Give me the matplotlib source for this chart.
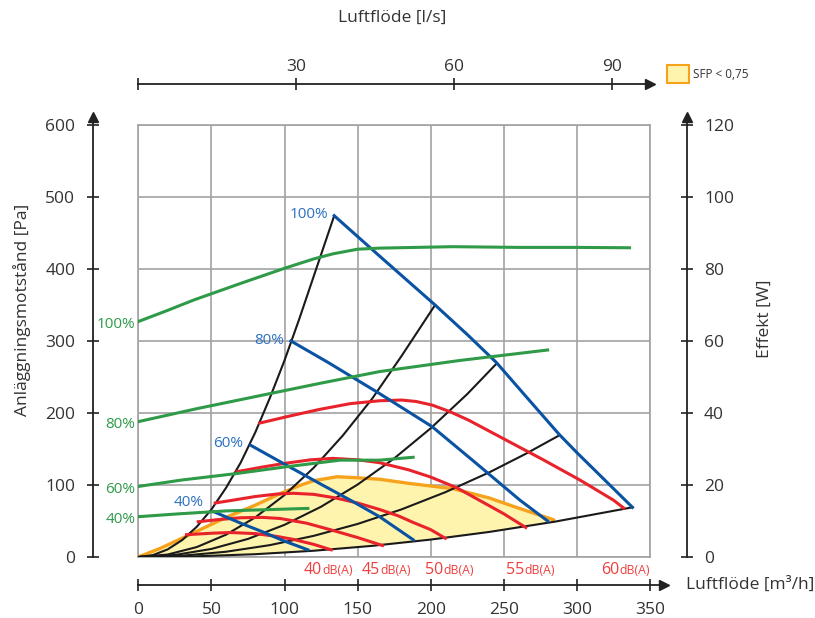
import numpy as np
import matplotlib
matplotlib.use("Agg")
import matplotlib.pyplot as plt
from matplotlib.patches import Rectangle

plt.rcParams['font.family'] = ['Open Sans', 'DejaVu Sans']

# Systemkurvor (luftflöde m3/h, tryck Pa)
sys_a_q = [0, 10, 20, 30, 40, 50, 60, 70, 80, 90, 100, 110, 120, 134]
sys_a_p = [0, 2.6, 10.5, 23.5, 42, 66, 96, 131, 173, 221, 273, 330, 390, 474]
sys_b_q = [0, 20, 40, 60, 80, 100, 120, 140, 160, 180, 203]
sys_b_p = [0, 3.4, 13.8, 31, 55, 86, 124, 169, 220, 279, 350]
sys_c_q = [0, 25, 50, 75, 100, 125, 150, 175, 200, 225, 245]
sys_c_p = [0, 2.8, 11.2, 25.1, 44.7, 69.8, 100.6, 136.9, 178.8, 226.3, 268.5]
sys_d_q = [0, 30, 60, 90, 120, 150, 180, 210, 240, 265, 288]
sys_d_p = [0, 1.8, 7.3, 16.5, 29.4, 45.9, 66.1, 90, 117.5, 143.3, 169]
sys_e_q = [0, 40, 80, 120, 160, 200, 240, 285, 338]
sys_e_p = [0, 1, 3.9, 8.7, 15.5, 24.2, 34.8, 49.1, 69]

# Fläktkurvor (styrsignal %)
fan_labels = ['100%', '80%', '60%', '40%']
fan_q = [
    [134, 165, 203, 225, 245, 266, 288, 300, 312, 325, 338],
    [104.4, 130, 165, 201, 230, 261, 280],
    [77, 100, 125, 145, 165, 188],
    [51.5, 70, 85, 100, 116],
]
fan_p = [
    [474, 418, 350, 309, 270, 221, 170, 145, 121, 95, 69],
    [300, 270, 227, 181, 132, 79, 50],
    [155, 129, 101, 79, 56, 24],
    [63, 47, 35, 22, 10],
]
fan_label_off = [(-6, 1), (-7, 1), (-8, 2), (-10, 9)]

# Ljudnivåkurvor dB(A)
db_labels = ['40', '45', '50', '55', '60']
db_q = [
    [33, 50, 63, 80, 95, 106, 120, 132],
    [41, 55, 70, 85, 97, 115, 133, 150, 167],
    [52.6, 65, 80, 95, 106, 120, 135, 150, 165, 178, 188, 200, 210],
    [67.5, 85, 100, 118, 133, 150, 165, 185, 200, 218, 234, 250, 265],
    [83, 104, 124, 145, 165, 180, 190, 201, 213, 226, 251, 277, 302, 325, 332],
]
db_p = [
    [31, 33, 34, 32.5, 28.5, 24.5, 17.5, 10],
    [49, 52, 54.5, 55, 53.5, 47, 37, 27, 16],
    [75, 79, 84, 87.5, 88.5, 87, 82, 75, 66, 57, 48, 38, 26],
    [118.5, 125, 130, 135, 137, 135, 131, 121, 111, 96, 78, 60, 41],
    [186, 196, 205, 213, 217, 218, 216, 211, 202, 190, 163, 135, 107, 79, 68],
]
db_label_q = [125.6, 165.3, 208.8, 263.8, 329.2]

# Effektkurvor (W)
pow_labels = ['100%', '80%', '60%', '40%']
pow_q = [
    [0, 20, 38, 70, 100, 120, 133, 150, 165, 190, 215, 260, 300, 336],
    [0, 40, 83, 125, 165, 220, 280],
    [0, 30, 67.5, 100, 138, 165, 188],
    [0, 28, 60, 116],
]
pow_w = [
    [65.4, 68.5, 71.4, 76, 80.2, 82.8, 84.2, 85.5, 85.8, 86, 86.2, 86, 86, 85.9],
    [37.6, 41.2, 44.8, 48.3, 51.5, 54.6, 57.5],
    [19.6, 21.4, 23.2, 25, 26.9, 26.9, 27.7],
    [11.2, 12, 12.8, 13.5],
]

# SFP < 0,75 område
sfp_q = [0, 15, 33, 60, 80, 97, 110, 120, 136, 150, 165, 186, 215, 240, 257, 285]
sfp_p = [0, 12, 29, 55, 72, 88, 99, 106, 111.5, 110, 108, 102, 95, 82, 70, 51]
sfp_low_q = [285, 240, 200, 160, 120, 80, 40, 0]
sfp_low_p = [49.1, 34.8, 24.2, 15.5, 8.7, 3.9, 1, 0]

BLUE = '#0a52a2'
BLUE_TXT = '#2b70c2'
RED = '#e8232b'
RED_TXT = '#ee3e3e'
GREEN = '#2f9a47'
GREEN_TXT = '#2f9a4a'
ORANGE = '#f7a21c'
YELLOW = '#fff4ae'
GRID = '#a2a2a2'
AX = '#222222'
TXT = '#333333'

W, H = 815, 618
fig = plt.figure(figsize=(W / 100, H / 100), dpi=100)


def fx(px):
    return px / W


def fy(py):
    return 1 - py / H


# diagramrutan
x0, x1, ytop, ybot = 138.3, 650, 125, 557
ax = fig.add_axes([fx(x0), fy(ybot), (x1 - x0) / W, (ybot - ytop) / H])
ax.set_xlim(0, 350)
ax.set_ylim(0, 600)
ax.set_xticks(np.arange(0, 351, 50))
ax.set_yticks(np.arange(0, 601, 100))
ax.tick_params(length=0, labelbottom=False, labelleft=False)
ax.grid(True, color=GRID, lw=1.2)
for s in ax.spines.values():
    s.set_color(GRID)
    s.set_linewidth(1.2)

poly_q = sfp_q + sfp_low_q
poly_p = sfp_p + sfp_low_p
ax.fill(poly_q, poly_p, color=YELLOW, lw=0, zorder=2)
ax.plot(sfp_q, sfp_p, color=ORANGE, lw=2.4, zorder=3, solid_capstyle='butt')

for q, p in [(sys_a_q, sys_a_p), (sys_b_q, sys_b_p), (sys_c_q, sys_c_p),
             (sys_d_q, sys_d_p), (sys_e_q, sys_e_p)]:
    ax.plot(q, p, color='#1a1a1a', lw=1.5, zorder=4)

for i, lab in enumerate(db_labels):
    ax.plot(db_q[i], db_p[i], color=RED, lw=2.2, zorder=5,
            solid_joinstyle='round')
    ax.text(db_label_q[i], -23.6, lab, color=RED_TXT, fontsize=11.5,
            ha='right', va='baseline', clip_on=False)
    ax.text(db_label_q[i], -23.6, 'dB(A)', color=RED_TXT, fontsize=8.8,
            ha='left', va='baseline', clip_on=False)

for i, lab in enumerate(fan_labels):
    ax.plot(fan_q[i], fan_p[i], color=BLUE, lw=2.2, zorder=6,
            solid_joinstyle='round')
    ax.annotate(lab, (fan_q[i][0], fan_p[i][0]), xytext=fan_label_off[i],
                textcoords='offset pixels', color=BLUE_TXT, fontsize=11,
                ha='right', va='center', zorder=8)

# effekt mot höger axel
ax_w = ax.twinx()
ax_w.set_ylim(0, 120)
ax_w.axis('off')
for i, lab in enumerate(pow_labels):
    ax_w.plot(pow_q[i], pow_w[i], color=GREEN, lw=2.2, zorder=7,
              solid_joinstyle='round')
    ax_w.annotate(lab, (pow_q[i][0], pow_w[i][0]), xytext=(-3, -3),
                  textcoords='offset pixels', color=GREEN_TXT, fontsize=11,
                  ha='right', va='center', annotation_clip=False)


def bare(a):
    a.patch.set_visible(False)
    for s in a.spines.values():
        s.set_visible(False)


tick_kw = dict(direction='inout', length=9, width=1.2, color=AX,
               labelcolor=TXT, labelsize=12.5)

# vänster axel (Pa)
top_tip = 117
ax_l = fig.add_axes([fx(92.7), fy(ybot), 1e-5, (ybot - top_tip) / H])
bare(ax_l)
ax_l.spines['left'].set_visible(True)
ax_l.spines['left'].set_color(AX)
ax_l.spines['left'].set_linewidth(1.3)
ax_l.set_ylim(0, 600 * (ybot - top_tip) / (ybot - ytop))
ax_l.set_xticks([])
ax_l.set_yticks(np.arange(0, 601, 100))
ax_l.tick_params(axis='y', pad=8, **tick_kw)
ax_l.plot([0], [1], marker='^', ms=7, color=AX, transform=ax_l.transAxes,
          clip_on=False)

# höger axel (W)
ax_r = fig.add_axes([fx(686.7), fy(ybot), 1e-5, (ybot - top_tip) / H])
bare(ax_r)
ax_r.spines['right'].set_visible(True)
ax_r.spines['right'].set_color(AX)
ax_r.spines['right'].set_linewidth(1.3)
ax_r.set_ylim(0, 120 * (ybot - top_tip) / (ybot - ytop))
ax_r.set_xticks([])
ax_r.yaxis.tick_right()
ax_r.set_yticks(np.arange(0, 121, 20))
ax_r.tick_params(axis='y', pad=8, **tick_kw)
ax_r.plot([1], [1], marker='^', ms=7, color=AX, transform=ax_r.transAxes,
          clip_on=False)

# nedre axel (m3/h)
b_tip = 664
ax_b = fig.add_axes([fx(x0), fy(585), (b_tip - x0) / W, 1e-5])
bare(ax_b)
ax_b.spines['bottom'].set_visible(True)
ax_b.spines['bottom'].set_color(AX)
ax_b.spines['bottom'].set_linewidth(1.3)
ax_b.set_xlim(0, 350 * (b_tip - x0) / (x1 - x0))
ax_b.set_yticks([])
ax_b.set_xticks(np.arange(0, 351, 50))
ax_b.tick_params(axis='x', pad=8, **tick_kw)
ax_b.plot([1], [0], marker='>', ms=7, color=AX, transform=ax_b.transAxes,
          clip_on=False)

# övre axel (l/s)
t_tip = 650
ax_t = fig.add_axes([fx(x0), fy(84), (t_tip - x0) / W, 1e-5])
bare(ax_t)
ax_t.spines['top'].set_visible(True)
ax_t.spines['top'].set_color(AX)
ax_t.spines['top'].set_linewidth(1.3)
ax_t.set_xlim(0, 350 / 3.6 * (t_tip - x0) / (x1 - x0))
ax_t.set_yticks([])
ax_t.xaxis.tick_top()
ax_t.set_xticks([0, 30, 60, 90])
ax_t.set_xticklabels(['', '30', '60', '90'])
ax_t.tick_params(axis='x', pad=2, **tick_kw)
ax_t.plot([1], [1], marker='>', ms=7, color=AX, transform=ax_t.transAxes,
          clip_on=False)

# axeltitlar
fig.text(fx(392), fy(18), 'Luftflöde [l/s]', ha='center', va='center',
         fontsize=12.5, color=TXT)
fig.text(fx(686), fy(585), 'Luftflöde [m³/h]', ha='left', va='center',
         fontsize=12.5, color=TXT)
fig.text(fx(21.7), fy(310), 'Anläggningsmotstånd [Pa]', rotation=90,
         ha='center', va='center', fontsize=12.5, color=TXT)
fig.text(fx(765), fy(319), 'Effekt [W]', rotation=90, ha='center',
         va='center', fontsize=12.5, color=TXT)

# SFP-förklaring
fig.add_artist(Rectangle((fx(667), fy(83)), 22 / W, 18 / H,
                         transform=fig.transFigure, facecolor=YELLOW,
                         edgecolor=ORANGE, lw=1.5))
fig.text(fx(693), fy(74), 'SFP < 0,75', ha='left', va='center',
         fontsize=8.5, color=TXT)

fig.savefig('out.png', dpi=100)
